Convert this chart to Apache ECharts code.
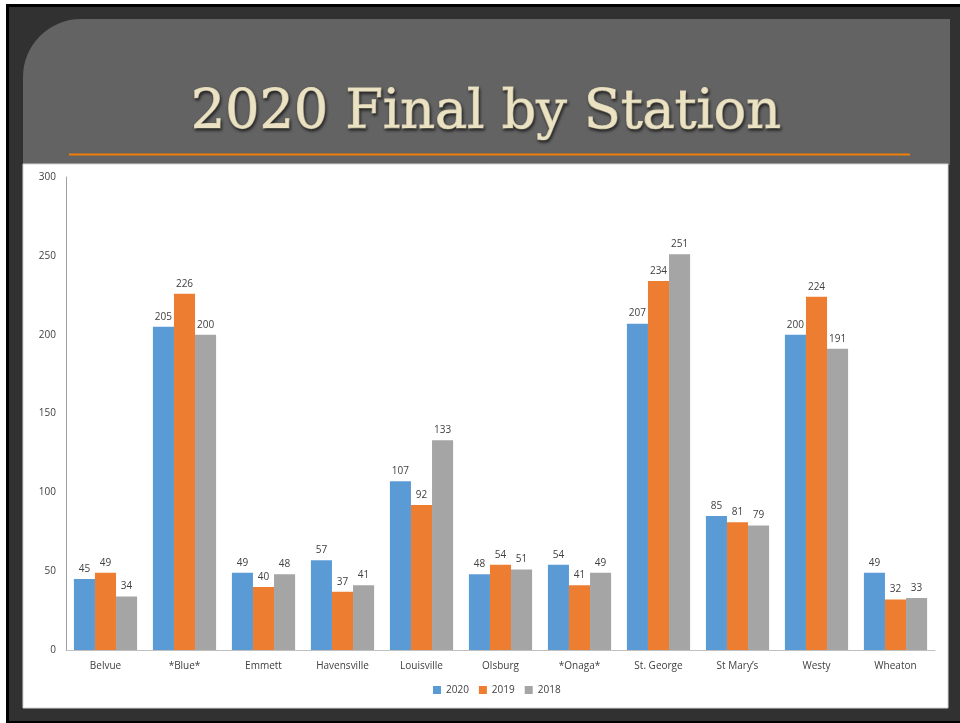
<!DOCTYPE html>
<html>
<head>
<meta charset="utf-8">
<script src="https://cdn.jsdelivr.net/npm/echarts@6/dist/echarts.min.js"></script>
<style>html,body{margin:0;padding:0;background:#fff;}#c{width:960px;height:723px;}</style>
</head>
<body>
<div id="c"></div>
<script>
const categories = ['Belvue', '*Blue*', 'Emmett', 'Havensville', 'Louisville', 'Olsburg', '*Onaga*', 'St. George', 'St Mary\u2019s', 'Westy', 'Wheaton'];
const s2020 = [45, 205, 49, 57, 107, 48, 54, 207, 85, 200, 49];
const s2019 = [49, 226, 40, 37, 92, 54, 41, 234, 81, 224, 32];
const s2018 = [34, 200, 48, 41, 133, 51, 49, 251, 79, 191, 33];
const yTicks = [0, 50, 100, 150, 200, 250, 300];

const chart = echarts.init(document.getElementById('c'));
const labelFont = { fontFamily: 'Open Sans, DejaVu Sans, sans-serif', fontSize: 10, color: '#404040' };
function mk(name, data, color) {
  return {
    name, type: 'bar', data, barGap: '0%', barCategoryGap: '20%',
    itemStyle: { color },
    label: Object.assign({ show: true, position: 'top', distance: 5 }, labelFont),
    emphasis: { disabled: true }
  };
}
chart.setOption({
  backgroundColor: 'transparent',
  animation: false,
  graphic: [
    { type: 'rect', z: -10, shape: { x: 6, y: 4, width: 960, height: 719 }, style: { fill: '#000' } },
    { type: 'rect', z: -9, shape: { x: 9, y: 7, width: 960, height: 714 }, style: { fill: '#313131' } },
    { type: 'rect', z: -8, shape: { x: 23, y: 19, width: 927, height: 146, r: [58, 0, 0, 0] }, style: { fill: '#636363' } },
    { type: 'line', z: -7, shape: { x1: 69, y1: 154.5, x2: 910, y2: 154.5 }, style: { stroke: '#f07f09', lineWidth: 2 } },
    { type: 'rect', z: -7, shape: { x: 23, y: 164, width: 925, height: 544 }, style: { fill: '#fff', stroke: '#d4d4d4', lineWidth: 1 } },
    { type: 'text', z: 5, x: 486, y: 114, style: { text: '2020 Final by Station', font: '54px "DejaVu Serif", serif', fill: '#ebe2c3', stroke: '#e6dcba', lineWidth: 1.2, align: 'center', verticalAlign: 'middle', textShadowColor: 'rgba(0,0,0,0.6)', textShadowBlur: 3, textShadowOffsetX: 1, textShadowOffsetY: 2 } }
  ],
  grid: { left: 66, right: 25, top: 177, bottom: 73, containLabel: false },
  legend: {
    bottom: 23, left: 428, itemWidth: 8, itemHeight: 8, itemGap: 10,
    icon: 'rect', textStyle: labelFont, data: ['2020', '2019', '2018']
  },
  xAxis: {
    type: 'category', data: categories,
    axisLine: { lineStyle: { color: '#bfbfbf' } },
    axisTick: { show: false },
    axisLabel: Object.assign({ margin: 11 }, labelFont)
  },
  yAxis: {
    type: 'value', min: 0, max: 300, interval: 50,
    axisLine: { show: true, lineStyle: { color: '#a0a0a0' } },
    axisTick: { show: false },
    splitLine: { show: false },
    axisLabel: Object.assign({ margin: 10 }, labelFont)
  },
  series: [mk('2020', s2020, '#5b9bd5'), mk('2019', s2019, '#ed7d31'), mk('2018', s2018, '#a5a5a5')]
});
</script>
</body>
</html>
